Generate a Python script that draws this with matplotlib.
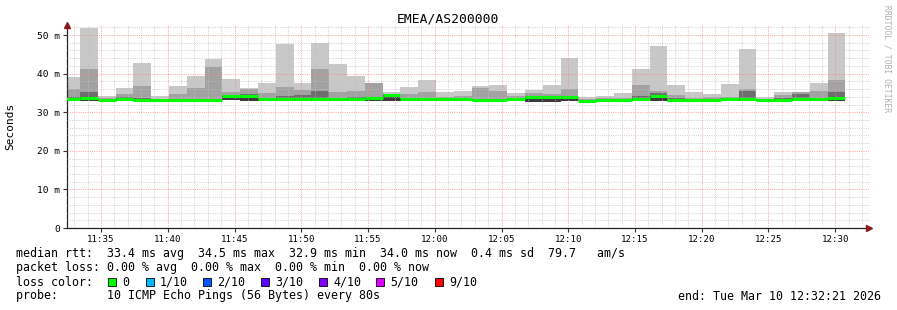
import numpy as np
import matplotlib
matplotlib.use("Agg")
import matplotlib.pyplot as plt
from matplotlib.patches import Rectangle

# 80s smoke bars, value in ms (time axis = minutes after 11:00)
ping_max = [39.1, 51.8, 34.1, 36.4, 42.7, 34.1, 36.8, 39.4, 43.8, 38.6, 36.4,
            37.6, 47.7, 37.6, 47.9, 42.5, 39.4, 37.6, 35.2, 36.5, 38.3, 35.2,
            35.6, 36.8, 37.0, 34.9, 35.8, 37.0, 44.0, 33.9, 34.2, 35.0, 41.2,
            47.2, 37.0, 35.2, 34.7, 37.3, 46.4, 33.9, 35.2, 35.2, 37.6, 50.5]
ping_mid = [35.9, 41.2, 33.6, 34.8, 36.8, 33.5, 34.6, 36.3, 41.7, 35.2, 36.0,
            35.0, 36.5, 35.8, 41.2, 35.2, 35.5, 37.6, 34.7, 34.7, 35.2, 33.9,
            34.2, 36.3, 35.5, 34.3, 35.0, 34.7, 35.9, 33.5, 33.6, 33.8, 37.0,
            35.5, 34.5, 33.7, 33.9, 33.9, 36.0, 33.4, 34.5, 35.2, 35.5, 38.3]
ping_dark = [33.9, 35.3, 33.3, 33.9, 33.8, 33.2, 33.4, 33.4, 33.4, 34.5, 34.7,
             33.8, 34.2, 34.5, 35.5, 33.6, 33.9, 33.9, 34.7, 33.7, 33.6, 33.5,
             33.5, 33.5, 33.4, 33.7, 33.9, 34.0, 34.3, 33.2, 33.3, 33.4, 34.2,
             35.0, 33.8, 33.4, 33.5, 33.6, 35.5, 33.2, 33.6, 34.6, 33.8, 35.2]
median = [33.3, 33.6, 33.2, 33.5, 33.2, 33.1, 33.1, 33.1, 33.1, 34.2, 34.3,
          33.5, 33.4, 33.4, 33.5, 33.3, 33.3, 33.8, 34.5, 33.4, 33.3, 33.3,
          33.3, 33.2, 33.2, 33.5, 33.9, 33.9, 33.9, 33.0, 33.1, 33.2, 33.4,
          34.2, 33.2, 33.2, 33.2, 33.4, 33.4, 33.1, 33.2, 33.3, 33.3, 33.8]
ping_min = [32.9, 32.9, 32.9, 32.8, 32.9, 32.9, 32.9, 32.9, 32.9, 33.2, 33.0,
            33.0, 33.0, 33.0, 33.0, 33.0, 33.0, 33.0, 33.0, 33.0, 33.0, 33.0,
            33.0, 33.0, 33.0, 33.1, 32.7, 32.7, 33.0, 32.8, 32.9, 33.0, 33.0,
            33.0, 32.8, 33.0, 32.9, 33.0, 33.0, 32.9, 33.0, 33.0, 33.0, 33.0]

first_end = 33.43      # end of first (partial) bar, minutes after 11:00
step = 80 / 60.0       # 80 s per bar
x_lo, x_hi = 32.45, 92.53

tick_min = [35, 40, 45, 50, 55, 60, 65, 70, 75, 80, 85, 90]
tick_lab = ["11:35", "11:40", "11:45", "11:50", "11:55", "12:00",
            "12:05", "12:10", "12:15", "12:20", "12:25", "12:30"]
y_ticks = [0, 10, 20, 30, 40, 50]
y_lab = ["0", "10 m", "20 m", "30 m", "40 m", "50 m"]

loss_labels = ["0", "1/10", "2/10", "3/10", "4/10", "5/10", "9/10"]
loss_colors = ["#00ff00", "#00b8ff", "#0059ff", "#5e00ff", "#7e00ff", "#dd00ff", "#ff0000"]

W, H = 897, 310
mono = "DejaVu Sans Mono"
plt.rcParams['font.family'] = mono

fig = plt.figure(figsize=(W / 100, H / 100), dpi=100)
ax = fig.add_axes([67 / W, 82 / H, (869 - 67) / W, (228 - 25) / H])

ends = first_end + step * np.arange(len(median))
starts = ends - step
pmin = np.array(ping_min)

ax.bar(starts, np.array(ping_max) - pmin, width=step, bottom=pmin, align='edge', color='#c8c8c8', zorder=1)
ax.bar(starts, np.array(ping_mid) - pmin, width=step, bottom=pmin, align='edge', color='#a2a2a2', zorder=1.1)
ax.bar(starts, np.array(ping_dark) - pmin, width=step, bottom=pmin, align='edge', color='#6e6e6e', zorder=1.2)
ax.bar(starts, np.array(median) - pmin, width=step, bottom=pmin, align='edge', color='#3a3a3a', zorder=1.3)
ax.hlines(median, starts, ends, colors='#00ff00', linewidth=2.2, zorder=3)

ax.set_xlim(x_lo, x_hi)
ax.set_ylim(0, 52.6)

# rrdtool style grid
ax.set_xticks(np.arange(33, 93, 1), minor=True)
ax.set_yticks(np.arange(0, 53, 2), minor=True)
ax.set_xticks(tick_min)
ax.set_xticklabels(tick_lab, fontsize=6.6)
ax.set_yticks(y_ticks)
ax.set_yticklabels(y_lab, fontsize=6.8)
ax.grid(which='minor', color='#c0c0c0', linestyle=(0, (1, 1.3)), linewidth=0.7, alpha=0.75)
ax.grid(which='major', color='#ff8080', linestyle=(0, (1, 1.3)), linewidth=0.7, alpha=0.75)
ax.set_axisbelow(False)
ax.tick_params(which='minor', length=0)
ax.tick_params(which='major', length=3, width=0.8, color='#333333', pad=2)
ax.tick_params(axis='x', pad=2)

for s in ['top', 'right']:
    ax.spines[s].set_visible(False)
for s in ['left', 'bottom']:
    ax.spines[s].set_color('#222222')
    ax.spines[s].set_linewidth(0.9)
ax.plot([x_lo], [52.6], marker='^', color='#8b1a1a', markersize=4, clip_on=False, zorder=5)
ax.plot([x_hi], [0], marker='>', color='#8b1a1a', markersize=4, clip_on=False, zorder=5)

ax.set_ylabel("Seconds", fontsize=8, labelpad=16)

fig.text(448 / W, 1 - 19 / H, "EMEA/AS200000", ha='center', va='center', fontsize=9.4)
fig.text(887 / W, 1 - 5 / H, "RRDTOOL / TOBI OETIKER", rotation=270, ha='center', va='top',
         fontsize=5.8, color='#b0b0b0')


def ftext(x, y, s, **kw):
    fig.text(x / W, 1 - y / H, s, va='center', fontsize=8.4, **kw)


ftext(16, 254, "median rtt:  33.4 ms avg  34.5 ms max  32.9 ms min  34.0 ms now  0.4 ms sd  79.7   am/s")
ftext(16, 268, "packet loss: 0.00 % avg  0.00 % max  0.00 % min  0.00 % now")
ftext(16, 282, "loss color:")
sq_x = [108, 146, 203, 261, 319, 376, 435]
for sx, lab, col in zip(sq_x, loss_labels, loss_colors):
    fig.patches.append(Rectangle((sx / W, 1 - 286 / H), 8 / W, 8 / H, transform=fig.transFigure,
                                 facecolor=col, edgecolor='black', linewidth=0.6))
    ftext(sx + 14, 282, lab)
ftext(16, 296, "probe:       10 ICMP Echo Pings (56 Bytes) every 80s")
fig.text(881 / W, 1 - 296 / H, "end: Tue Mar 10 12:32:21 2026", ha='right', va='center', fontsize=8.4)

fig.savefig("out.png", dpi=100)
